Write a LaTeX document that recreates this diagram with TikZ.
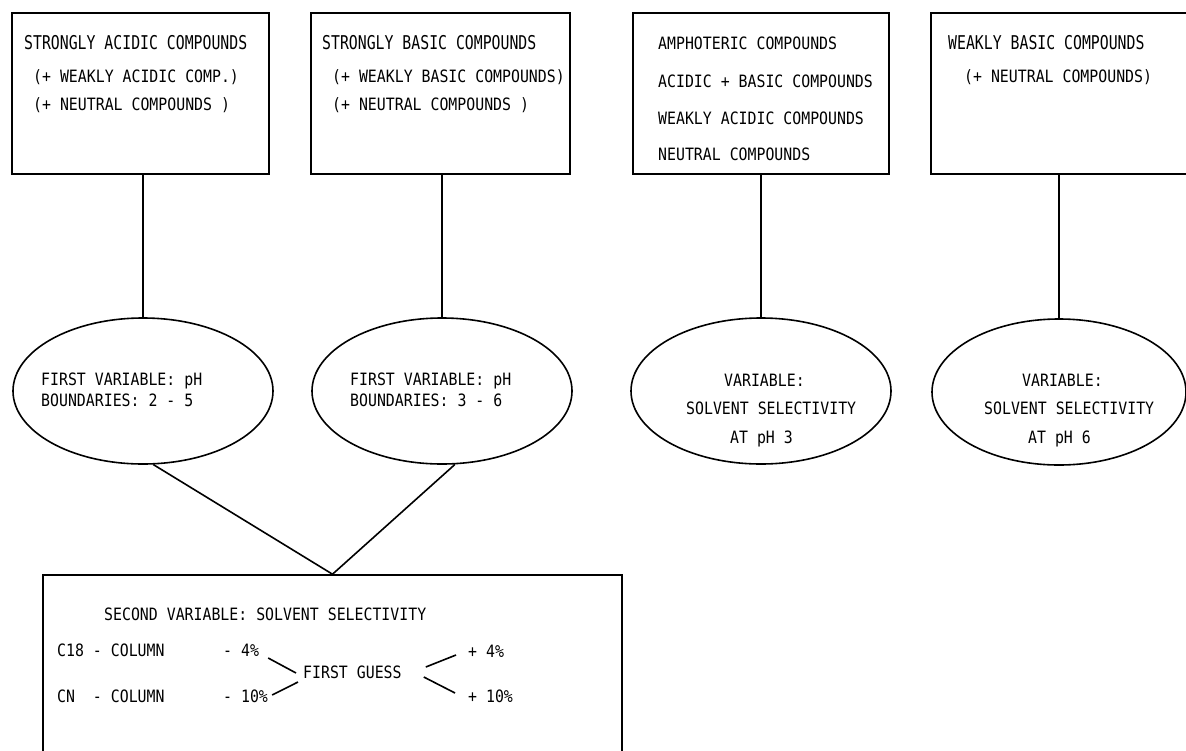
\documentclass[tikz,border=0pt]{standalone}
\usepackage{fontspec}
\newfontfamily\txtfont[FakeStretch=0.874]{DejaVu Sans Mono}
\newfontfamily\hdfont[FakeStretch=0.78]{DejaVu Sans Mono}
\usetikzlibrary{shapes.geometric,calc}
\begin{document}
\begin{tikzpicture}[x=1pt,y=-1pt,
  frame/.style={draw, line width=1.6pt, inner sep=0pt, minimum height=161pt},
  ell/.style={draw, ellipse, line width=1.6pt, inner sep=0pt, minimum width=260pt, minimum height=146pt},
  conn/.style={line width=1.6pt},
  txt/.style={inner sep=0pt, anchor=base west, font=\txtfont\fontsize{17}{20}\selectfont},
  hd/.style={inner sep=0pt, anchor=base west, font=\hdfont\fontsize{19}{22}\selectfont}]
\useasboundingbox (0,0) rectangle (1186,750);
\fill[white] (0,0) rectangle (1186,750);

% top boxes
\node[frame, minimum width=257pt] (b1) at (140.5,93.5) {};
\node[frame, minimum width=259pt] (b2) at (440.5,93.5) {};
\node[frame, minimum width=256pt] (b3) at (761,93.5) {};
\node[frame, minimum width=269pt] (b4) at (1065.5,93.5) {};

% box texts
\node[hd] (t11) at (24,49) {STRONGLY ACIDIC COMPOUNDS};
\node[txt] (t12) at (33,82) {(+ WEAKLY ACIDIC COMP.)};
\node[txt] (t13) at (33,110) {(+ NEUTRAL COMPOUNDS )};

\node[hd] (t21) at (322,49) {STRONGLY BASIC COMPOUNDS};
\node[txt] (t22) at (332,82) {(+ WEAKLY BASIC COMPOUNDS)};
\node[txt] (t23) at (332,110) {(+ NEUTRAL COMPOUNDS )};

\node[txt] (t31) at (658,49) {AMPHOTERIC COMPOUNDS};
\node[txt] (t32) at (658,87) {ACIDIC + BASIC COMPOUNDS};
\node[txt] (t33) at (658,124) {WEAKLY ACIDIC COMPOUNDS};
\node[txt] (t34) at (658,160) {NEUTRAL COMPOUNDS};

\node[hd] (t41) at (948,49) {WEAKLY BASIC COMPOUNDS};
\node[txt] (t42) at (964,82) {(+ NEUTRAL COMPOUNDS)};

% ellipses
\node[ell] (e1) at (143,391) {};
\node[ell] (e2) at (442,391) {};
\node[ell] (e3) at (761,391) {};
\node[ell, minimum width=254pt] (e4) at (1059,392) {};

\node[txt] (x11) at (41,385) {FIRST VARIABLE: pH};
\node[txt] (x12) at (41,406) {BOUNDARIES: 2 - 5};
\node[txt] (x21) at (350,385) {FIRST VARIABLE: pH};
\node[txt] (x22) at (350,406) {BOUNDARIES: 3 - 6};

\node[txt] (x31) at (724,386) {VARIABLE:};
\node[txt] (x32) at (686,414) {SOLVENT SELECTIVITY};
\node[txt] (x33) at (730,443) {AT pH 3};
\node[txt] (x41) at (1022,386) {VARIABLE:};
\node[txt] (x42) at (984,414) {SOLVENT SELECTIVITY};
\node[txt] (x43) at (1028,443) {AT pH 6};

% bottom box
\node[draw, line width=1.6pt, inner sep=0pt, minimum width=579pt, minimum height=185pt] (bb) at (332.5,667.5) {};

% vertical connectors
\draw[conn] (e1.north |- b1.south) -- (e1.north);
\draw[conn] (e2.north |- b2.south) -- (e2.north);
\draw[conn] (e3.north |- b3.south) -- (e3.north);
\draw[conn] (e4.north |- b4.south) -- (e4.north);
\draw[conn] (e1.-82) -- (bb.north);
\draw[conn] (e2.-80) -- (bb.north);

% bottom texts
\node[txt] (s0) at (104,620) {SECOND VARIABLE: SOLVENT SELECTIVITY};
\node[txt] (c18) at (57,656) {C18 - COLUMN};
\node[txt] (m4) at (223,656) {- 4\%};
\node[txt] (cn) at (57,702) {CN~~- COLUMN};
\node[txt] (m10) at (223,702) {- 10\%};
\node[txt] (fg) at (303,678) {FIRST GUESS};
\node[txt] (p4) at (468,657) {+ 4\%};
\node[txt] (p10) at (468,702) {+ 10\%};

\draw[conn] ($(m4.base east)+(9,2)$) -- ($(fg.base west)+(-7,-5)$);
\draw[conn] ($(m10.base east)+(4,-7)$) -- ($(fg.base west)+(-5,4)$);
\draw[conn] ($(fg.base east)+(24,-11)$) -- ($(p4.base west)+(-12,-2)$);
\draw[conn] ($(fg.base east)+(22,-1)$) -- ($(p10.base west)+(-13,-9)$);
\end{tikzpicture}
\end{document}
